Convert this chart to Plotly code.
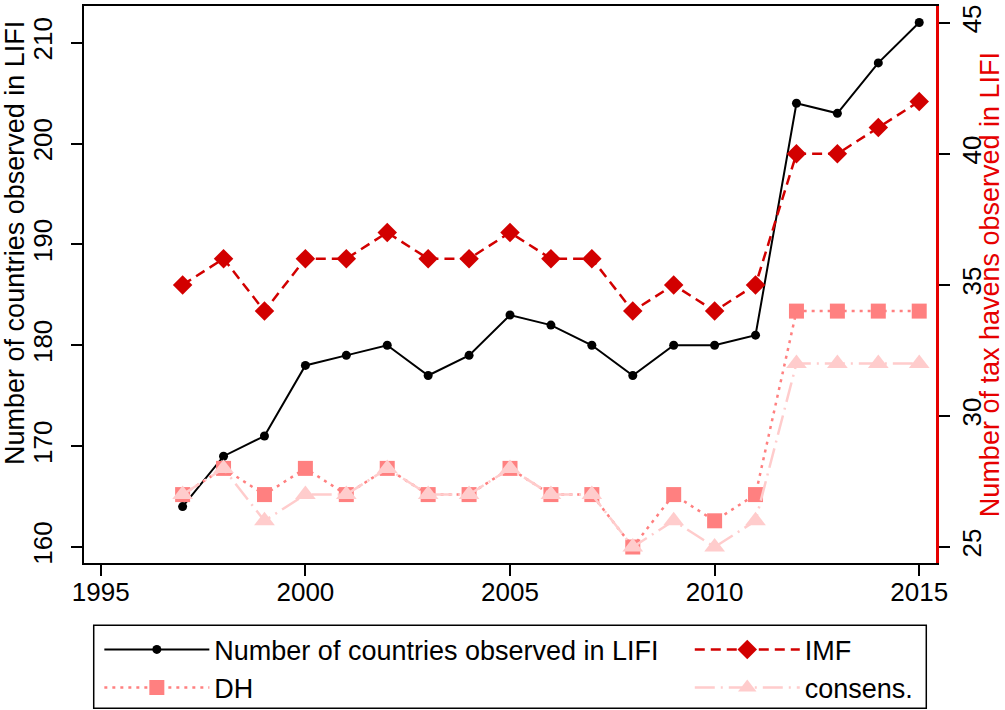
import plotly.graph_objects as go

years = [1997, 1998, 1999, 2000, 2001, 2002, 2003, 2004, 2005, 2006,
         2007, 2008, 2009, 2010, 2011, 2012, 2013, 2014, 2015]
countries = [164, 169, 171, 178, 179, 180, 177, 179, 183, 182,
             180, 177, 180, 180, 181, 204, 203, 208, 212]
imf = [35, 36, 34, 36, 36, 37, 36, 36, 37, 36,
       36, 34, 35, 34, 35, 40, 40, 41, 42]
dh = [27, 28, 27, 28, 27, 28, 27, 27, 28, 27,
      27, 25, 27, 26, 27, 34, 34, 34, 34]
consens = [27, 28, 26, 27, 27, 28, 27, 27, 28, 27,
           27, 25, 26, 25, 26, 32, 32, 32, 32]

x_ticks = [1995, 2000, 2005, 2010, 2015]
left_ticks = [160, 170, 180, 190, 200, 210]
right_ticks = [25, 30, 35, 40, 45]

FONT = "Liberation Sans, Arial, sans-serif"
RED = "rgb(210,0,0)"
DHC = "rgb(255,128,128)"
CONC = "rgb(255,204,204)"

fig = go.Figure()
fig.add_trace(go.Scatter(
    x=years, y=countries, name="Number of countries observed in LIFI",
    mode="lines+markers", yaxis="y", legend="legend",
    line=dict(color="black", width=2),
    marker=dict(symbol="circle", size=9, color="black")))
fig.add_trace(go.Scatter(
    x=years, y=imf, name="IMF", mode="lines+markers", yaxis="y2", legend="legend2",
    line=dict(color=RED, width=2.5, dash="10px,6px"),
    marker=dict(symbol="diamond", size=15, color=RED)))
fig.add_trace(go.Scatter(
    x=years, y=dh, name="DH", mode="lines+markers", yaxis="y2", legend="legend",
    line=dict(color=DHC, width=2.5, dash="3px,5px"),
    marker=dict(symbol="square", size=15, color=DHC)))
fig.add_trace(go.Scatter(
    x=years, y=consens, name="consens.", mode="lines+markers", yaxis="y2", legend="legend2",
    line=dict(color=CONC, width=2.5, dash="20px,6px,2px,6px"),
    marker=dict(symbol="triangle-up", size=18, color=CONC)))

tickfont = dict(family=FONT, size=26, color="black")
legfont = dict(family=FONT, size=27, color="black")

fig.update_layout(
    width=1005, height=710,
    margin=dict(l=84, r=69, t=6, b=147, autoexpand=False),
    paper_bgcolor="white", plot_bgcolor="white",
    font=dict(family=FONT, color="black"),
    xaxis=dict(range=[1994.59, 2015.41], tickvals=x_ticks, ticks="outside",
               ticklen=11, tickwidth=2, tickcolor="black", automargin=False,
               ticklabelstandoff=-6,
               showline=True, linecolor="black", linewidth=2, mirror=True,
               showgrid=False, zeroline=False, tickfont=tickfont),
    yaxis=dict(range=[158.41, 213.64], tickvals=left_ticks, tickangle=-90,
               ticks="outside", ticklen=11, tickwidth=2, tickcolor="black",
               automargin=False, ticklabelstandoff=9,
               showline=True, linecolor="black", linewidth=2,
               showgrid=False, zeroline=False, tickfont=tickfont),
    yaxis2=dict(range=[24.39, 45.64], tickvals=right_ticks, tickangle=-90,
                overlaying="y", side="right", anchor="x", automargin=False,
                ticks="outside", ticklen=11, tickwidth=2, tickcolor="black",
                showline=True, linecolor="rgb(230,0,0)", linewidth=2.5,
                showgrid=False, zeroline=False, tickfont=tickfont,
                title=dict(text="Number of tax havens observed in LIFI",
                           font=dict(family=FONT, size=27, color="rgb(230,0,0)"),
                           standoff=8)),
    legend=dict(x=0.018, y=-0.112, xanchor="left", yanchor="top",
                orientation="v", itemwidth=105, font=legfont,
                bgcolor="rgba(0,0,0,0)", borderwidth=0, tracegroupgap=0),
    legend2=dict(x=0.711, y=-0.112, xanchor="left", yanchor="top",
                 orientation="v", itemwidth=105, font=legfont,
                 bgcolor="rgba(0,0,0,0)", borderwidth=0, tracegroupgap=0),
    showlegend=True,
    shapes=[dict(type="rect", xref="paper", yref="paper",
                 x0=0.0114, x1=0.9886, y0=-0.1119, y1=-0.2606,
                 line=dict(color="black", width=1.5))],
    annotations=[dict(text="Number of countries observed in LIFI",
                      xref="paper", yref="paper", x=-0.1007, y=0.575,
                      xanchor="left", yanchor="middle", textangle=-90,
                      showarrow=False,
                      font=dict(family=FONT, size=27, color="black"))],
)

fig.write_html("out.html", config={"displayModeBar": False},
               post_script="document.body.style.margin='0';document.body.style.padding='0';")
